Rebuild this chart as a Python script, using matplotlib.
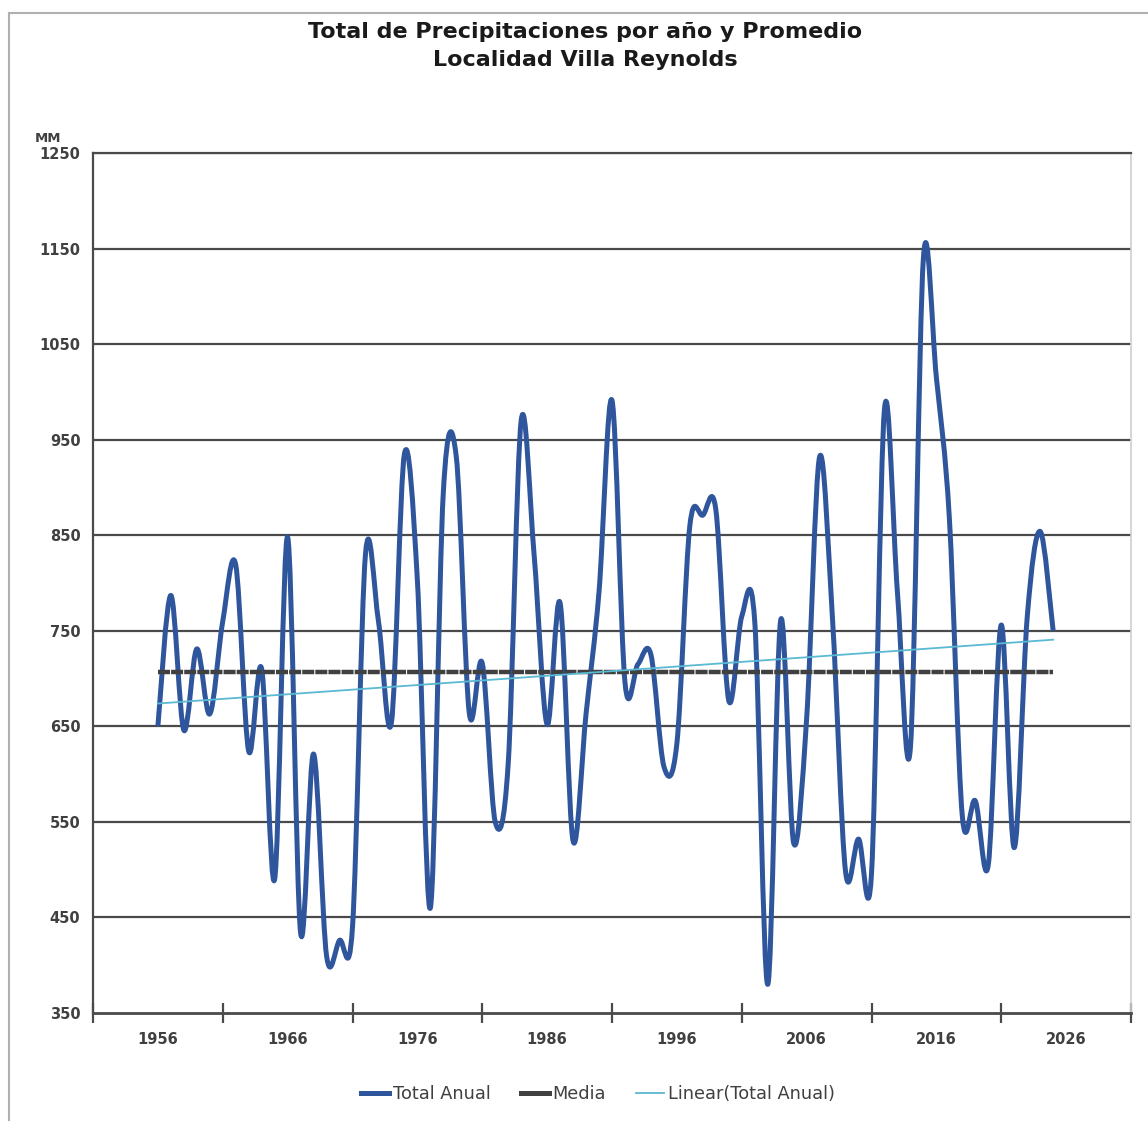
import numpy as np
import matplotlib.pyplot as plt
from matplotlib.path import Path
from matplotlib.patches import PathPatch
from matplotlib.lines import Line2D

# data (mm per year)
years = list(range(1956, 2026))
total_anual = [650, 787, 646, 731, 663, 760, 819, 624, 710, 490,
               848, 434, 621, 410, 426, 440, 830, 760, 654, 935,
               803, 460, 895, 932, 664, 716, 550, 611, 970, 829,
               652, 779, 530, 663, 791, 991, 696, 715, 725, 608,
               632, 860, 871, 877, 677, 765, 760, 380, 761, 528,
               658, 932, 761, 498, 532, 496, 982, 790, 628, 1140,
               1015, 868, 556, 572, 505, 756, 523, 764, 854, 750]

y_ticks = [350, 450, 550, 650, 750, 850, 950, 1050, 1150, 1250]
x_tick_years = [1951, 1961, 1971, 1981, 1991, 2001, 2011, 2021, 2031]
x_label_years = [1956, 1966, 1976, 1986, 1996, 2006, 2016, 2026]

title = 'Total de Precipitaciones por año y Promedio\nLocalidad Villa Reynolds'
legend_labels = ['Total Anual', 'Media', 'Linear(Total Anual)']

blue = '#2f569c'
dark = '#404040'
trend_color = '#5ab9d3'
grid_color = '#4a4a4a'


def smooth_path(x, y):
    # Excel-like smoothed line: catmull-rom segments as cubic beziers
    x = np.asarray(x, float)
    y = np.asarray(y, float)
    n = len(x)
    verts = [(x[0], y[0])]
    codes = [Path.MOVETO]
    for i in range(n - 1):
        i0 = max(i - 1, 0)
        i3 = min(i + 2, n - 1)
        c1 = (x[i] + (x[i + 1] - x[i0]) / 6, y[i] + (y[i + 1] - y[i0]) / 6)
        c2 = (x[i + 1] - (x[i3] - x[i]) / 6, y[i + 1] - (y[i3] - y[i]) / 6)
        verts += [c1, c2, (x[i + 1], y[i + 1])]
        codes += [Path.CURVE4] * 3
    return Path(verts, codes)


fig = plt.figure(figsize=(11.48, 11.21), dpi=100)
ax = fig.add_axes([93 / 1148, 1 - 1013 / 1121, (1131 - 93) / 1148, (1013 - 153) / 1121])

# grid lines
for v in y_ticks[1:]:
    ax.axhline(v, color=grid_color, lw=1.6, zorder=1)

# total anual (smoothed)
patch = PathPatch(smooth_path(years, total_anual), facecolor='none',
                  edgecolor=blue, lw=3.6, joinstyle='round', zorder=3)
ax.add_patch(patch)

# media
media = np.mean(total_anual)
ax.plot(years, np.full(len(years), media), color=dark, lw=3.2, zorder=4,
        linestyle=(0, (2.7, 0.25)))

# linear trend
coef = np.polyfit(years, total_anual, 1)
ax.plot(years, np.polyval(coef, years), color=trend_color, lw=1.3, zorder=5)

ax.set_xlim(1951, 2031)
ax.set_ylim(350, 1250)

ax.set_yticks(y_ticks)
ax.tick_params(axis='y', length=0, pad=9, labelsize=10.5, labelcolor=dark)
for lab in ax.get_yticklabels():
    lab.set_fontweight('bold')

ax.set_xticks(x_tick_years)
ax.set_xticklabels([''] * len(x_tick_years))
ax.set_xticks(x_label_years, minor=True)
ax.set_xticklabels([str(y) for y in x_label_years], minor=True,
                   fontsize=10.5, fontweight='bold', color=dark)
ax.tick_params(axis='x', which='major', direction='inout', length=15,
               width=1.6, color=grid_color)
ax.tick_params(axis='x', which='minor', length=0, pad=14)

ax.spines['left'].set_color(grid_color)
ax.spines['left'].set_linewidth(1.6)
ax.spines['bottom'].set_color(grid_color)
ax.spines['bottom'].set_linewidth(2)
ax.spines['top'].set_color(grid_color)
ax.spines['top'].set_linewidth(1.6)
ax.spines['right'].set_color('#d0d0d0')
ax.spines['right'].set_linewidth(1.2)

fig.text(48 / 1148, 1 - 138 / 1121, 'MM', ha='center', va='center',
         fontsize=9.5, fontweight='bold', color=dark)

fig.text(585 / 1148, 1 - 46 / 1121, title, ha='center', va='center',
         fontsize=16, fontweight='bold', color='#1a1a1a', linespacing=1.55)

# chart area border
fig.add_artist(Line2D([8.5 / 1148, 8.5 / 1148], [0, 1 - 13 / 1121],
                      transform=fig.transFigure, color='#b0b0b0', lw=1.5))
fig.add_artist(Line2D([8.5 / 1148, 1], [1 - 13 / 1121, 1 - 13 / 1121],
                      transform=fig.transFigure, color='#b0b0b0', lw=1.5))

handles = [Line2D([], [], color=blue, lw=3.6),
           Line2D([], [], color=dark, lw=3.6),
           Line2D([], [], color=trend_color, lw=1.3)]
leg = fig.legend(handles, legend_labels, loc='center', ncol=3,
                 bbox_to_anchor=(598 / 1148, 1 - 1094 / 1121), frameon=False,
                 fontsize=12.8, handlelength=1.57, handletextpad=0.22,
                 columnspacing=1.7)
for t in leg.get_texts():
    t.set_color(dark)

fig.savefig('out.png', dpi=100, facecolor='white')
